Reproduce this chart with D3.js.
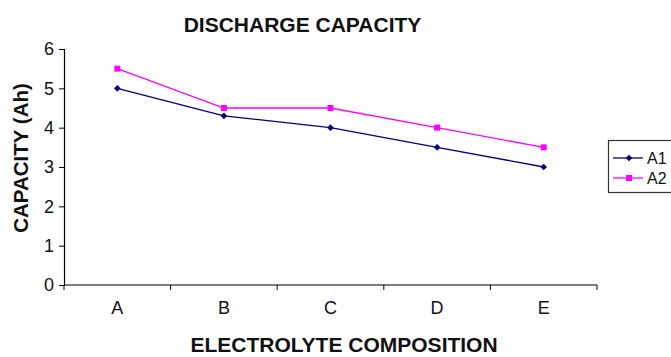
<!DOCTYPE html>
<html><head><meta charset="utf-8">
<script src="https://cdn.jsdelivr.net/npm/d3@7"></script>
<style>body{margin:0;background:#fff}svg{display:block;font-family:"Liberation Sans",Arial,sans-serif}</style>
</head><body><svg id="c" width="671" height="357"></svg>
<script>
const categories = ["A","B","C","D","E"];
const seriesNames = ["A1","A2"];
const a1 = [5.0, 4.3, 4.0, 3.5, 3.0];
const a2 = [5.5, 4.5, 4.5, 4.0, 3.5];
const yTicks = [0,1,2,3,4,5,6];

const svg = d3.select("#c");
const m = {l:64, r:597, t:49, b:285};
const x = d3.scaleBand().domain(categories).range([m.l, m.r]);
const y = d3.scaleLinear().domain([0,6]).range([m.b, m.t]);

// Y axis
const ya = svg.append("g").attr("transform",`translate(${m.l},0)`)
  .call(d3.axisLeft(y).tickValues(yTicks).tickFormat(d3.format("d")).tickSize(5).tickPadding(5));
ya.attr("font-size",null).attr("font-family",null);
ya.select(".domain").attr("stroke","#000").attr("stroke-width",1.2);
ya.selectAll(".tick line").attr("stroke","#000");
ya.selectAll("text").style("font-size","18px").attr("fill","#111");

// X axis
const xa = svg.append("g").attr("transform",`translate(0,${m.b})`)
  .call(d3.axisBottom(x).tickSize(0).tickPadding(16));
xa.attr("font-size",null).attr("font-family",null);
xa.selectAll("text").style("font-size","18px").attr("fill","#111");
xa.select(".domain").attr("d",`M${m.l},0H${m.r}`).attr("stroke","#000").attr("stroke-width",1.2);
const bounds = categories.map(c=>x(c)).concat([m.r]);
xa.selectAll(".bt").data(bounds).enter().append("line")
  .attr("x1",d=>d).attr("x2",d=>d).attr("y1",0).attr("y2",5).attr("stroke","#000");

const diamond = d3.symbol().type(d3.symbolSquare).size(22);
const square = d3.symbol().type(d3.symbolSquare).size(36);
const series = [
  {name:seriesNames[0], vals:a1, color:"#000080", sym:diamond, rot:45},
  {name:seriesNames[1], vals:a2, color:"#FF00FF", sym:square, rot:0}
];
const cx = c => x(c) + x.bandwidth()/2;
series.forEach(s=>{
  const line = d3.line().x((d,i)=>cx(categories[i])).y(d=>y(d));
  svg.append("path").attr("d",line(s.vals)).attr("fill","none").attr("stroke",s.color).attr("stroke-width",1.3);
  svg.selectAll(null).data(s.vals).enter().append("path")
    .attr("d",s.sym())
    .attr("transform",(d,i)=>`translate(${cx(categories[i])},${y(d)}) rotate(${s.rot})`)
    .attr("fill",s.color);
});

// Title and labels
svg.append("text").attr("x",302.5).attr("y",32).attr("text-anchor","middle")
  .style("font-size","21px").attr("font-weight","bold").attr("fill","#111").text("DISCHARGE CAPACITY");
svg.append("text").attr("transform","translate(28,158) rotate(-90)").attr("text-anchor","middle")
  .style("font-size","20.5px").attr("font-weight","bold").attr("fill","#111").text("CAPACITY (Ah)");
svg.append("text").attr("x",344).attr("y",352).attr("text-anchor","middle")
  .style("font-size","21px").attr("font-weight","bold").attr("fill","#111").text("ELECTROLYTE COMPOSITION");

// Legend
const lg = svg.append("g");
lg.append("rect").attr("x",608.5).attr("y",140.5).attr("width",70).attr("height",52)
  .attr("fill","#fff").attr("stroke","#333").attr("stroke-width",1.2);
series.forEach((s,i)=>{
  const yy = 158 + i*20;
  lg.append("line").attr("x1",613).attr("x2",643).attr("y1",yy).attr("y2",yy).attr("stroke",s.color).attr("stroke-width",1.3);
  lg.append("path").attr("d",s.sym()).attr("transform",`translate(629,${yy}) rotate(${s.rot})`).attr("fill",s.color);
  lg.append("text").attr("x",647).attr("y",yy+6).style("font-size","16px").attr("fill","#111").text(s.name);
});
</script></body></html>
